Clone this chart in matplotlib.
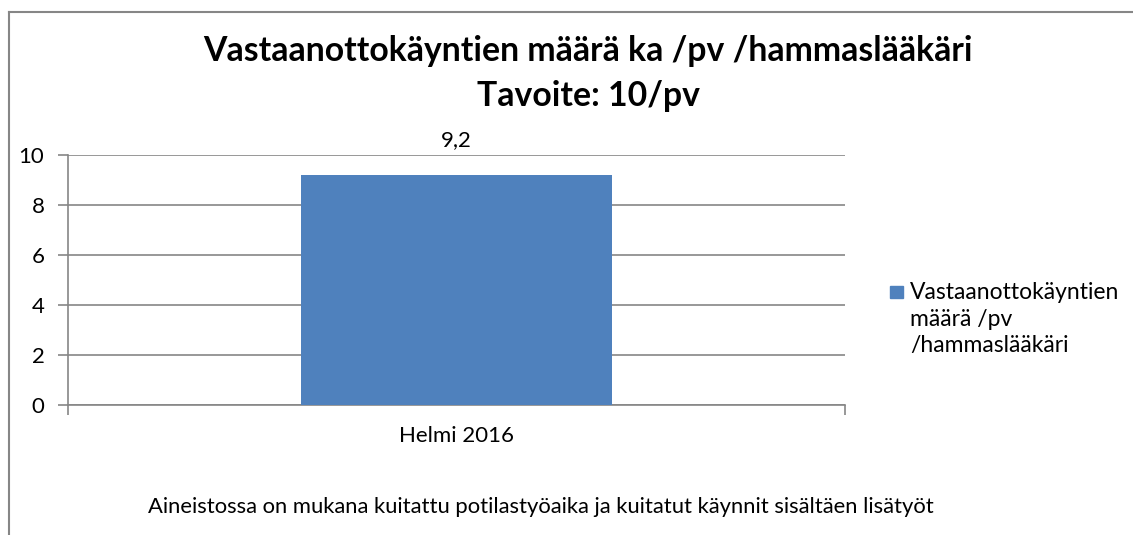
import matplotlib
matplotlib.use("Agg")
import matplotlib.pyplot as plt
from matplotlib.lines import Line2D

categories = ["Helmi 2016"]
values = [9.2]
series_name = "Vastaanottokäyntien\nmäärä /pv\n/hammaslääkäri"
title_lines = ["Vastaanottokäyntien määrä ka /pv /hammaslääkäri", "Tavoite: 10/pv"]
note_text = "Aineistossa on mukana kuitattu potilastyöaika ja kuitatut käynnit sisältäen lisätyöt"
yticks = [0, 2, 4, 6, 8, 10]

plt.rcParams['font.family'] = ['Lato', 'DejaVu Sans']

W, H = 1133, 535
fig = plt.figure(figsize=(W / 100, H / 100), dpi=100)
ax = fig.add_axes([68 / W, 1 - 405 / H, (845 - 68) / W, 250 / H])

bar_color = "#4F81BD"
grey = "#868686"
fs = 16
bars = ax.bar(range(len(categories)), values, width=0.4, color=bar_color, zorder=3)
ax.set_xlim(-0.5, len(categories) - 0.5)
ax.set_ylim(0, 10)
ax.set_yticks(yticks)
ax.set_yticklabels([str(v) for v in yticks], fontsize=fs)
ax.set_xticks([-0.5, 0.5])
ax.set_xticklabels([])
for i, c in enumerate(categories):
    ax.text(i, -0.085, c, transform=ax.get_xaxis_transform(), ha="center", va="top", fontsize=fs)
ax.grid(axis="y", color=grey, linewidth=1.2, zorder=0)
ax.tick_params(axis="y", length=7, width=1.2, color=grey, pad=10)
ax.tick_params(axis="x", length=7, width=1.2, color=grey)
for s in ["top", "right"]:
    ax.spines[s].set_visible(False)
for s in ["left", "bottom"]:
    ax.spines[s].set_color(grey)
    ax.spines[s].set_linewidth(1.2)

for b, v in zip(bars, values):
    ax.annotate(f"{v:.1f}".replace(".", ","), (b.get_x() + b.get_width() / 2, v),
                xytext=(0, 18), textcoords="offset points", ha="center", va="bottom", fontsize=fs)

for line, base_y in zip(title_lines, [61, 106]):
    fig.text(588 / W, 1 - base_y / H, line, ha="center", va="baseline", fontsize=24.3,
             fontweight="bold")

fig.patches.append(plt.Rectangle((890 / W, 1 - 298 / H), 13 / W, 12 / H,
                                 transform=fig.transFigure, color=bar_color))
fig.text(910 / W, 1 - 319 / H, series_name, ha="left", va="center", fontsize=16.5, linespacing=1.3)

fig.text(541 / W, 1 - 507 / H, note_text, ha="center", va="center", fontsize=15.8)

fig.lines.append(Line2D([8.5 / W, 8.5 / W], [0, 1 - 11.5 / H], transform=fig.transFigure,
                        color=grey, linewidth=1.5))
fig.lines.append(Line2D([8.5 / W, 1], [1 - 11.5 / H, 1 - 11.5 / H], transform=fig.transFigure,
                        color=grey, linewidth=1.5))

fig.savefig("out.png", dpi=100)
